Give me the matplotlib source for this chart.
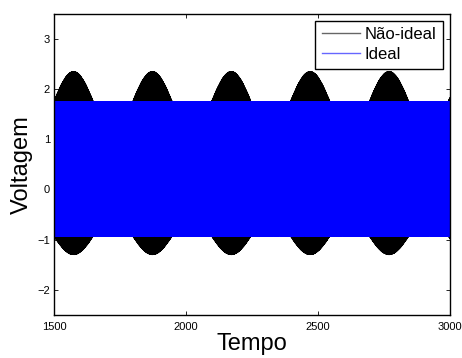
import numpy as np
import matplotlib.pyplot as plt

plt.rcParams['font.family'] = ['Liberation Sans', 'DejaVu Sans']

# --- values ---
t_start, t_end = 1500, 3000
xticks = [1500, 2000, 2500, 3000]
yticks = [-2, -1, 0, 1, 2, 3]

ideal_high = 1.75          # flat top of the blue trace
ideal_low = -0.93          # flat bottom of the blue trace
nonideal_peak = 2.35       # top of the black humps
nonideal_trough = -1.30    # bottom of the black humps
hump_centres = [1573, 1872, 2171, 2470, 2769]   # black hump positions
hump_period = 299

# switching (PWM) parameters: too dense to read edge by edge
dt = 0.25
carrier_period = 1.5
ref_period = 23.7
mod_index = 0.75
delay = 0.25               # non-ideal switch lags the ideal one

t = np.arange(t_start, t_end + dt, dt)


def pwm(time):
    ref = mod_index * np.sin(2 * np.pi * time / ref_period)
    phase = (time / carrier_period) % 1.0
    carrier = 4 * np.abs(phase - 0.5) - 1
    return ref > carrier


ideal = np.where(pwm(t), ideal_high, ideal_low)

env = np.cos(2 * np.pi * (t - hump_centres[0]) / hump_period)
high_n = ideal_high + (nonideal_peak - ideal_high) * env
low_n = ideal_low + (nonideal_trough - ideal_low) * env
nonideal = np.where(pwm(t - delay), high_n, low_n)

fig = plt.figure(figsize=(4.62, 3.58), dpi=100)
ax = fig.add_axes([0.1175, 0.121, 0.974 - 0.1175, 0.961 - 0.121])

ax.plot(t, nonideal, color='black', linewidth=0.8, label='Não-ideal')
ax.plot(t, ideal, color='blue', linewidth=0.8, label='Ideal')

ax.set_xlim(t_start, t_end)
ax.set_ylim(-2.5, 3.5)
ax.set_xticks(xticks)
ax.set_yticks(yticks)
ax.tick_params(direction='in', length=3, width=0.6, labelsize=8,
               top=True, right=True)
ax.tick_params(axis='x', pad=5)
ax.tick_params(axis='y', pad=3)
for s in ax.spines.values():
    s.set_linewidth(1.0)

ax.set_xlabel('Tempo', fontsize=17, labelpad=1)
ax.set_ylabel('Voltagem', fontsize=17, labelpad=3)

leg = ax.legend(loc='upper right', fontsize=12, fancybox=False,
                framealpha=1, edgecolor='black', borderaxespad=0.4,
                handlelength=2.3, borderpad=0.4, labelspacing=0.3,
                handletextpad=0.3)
leg.get_frame().set_linewidth(1.0)
for h in leg.get_lines():
    h.set_linewidth(1.0)
    h.set_alpha(0.6)

fig.savefig('out.png', dpi=100)
